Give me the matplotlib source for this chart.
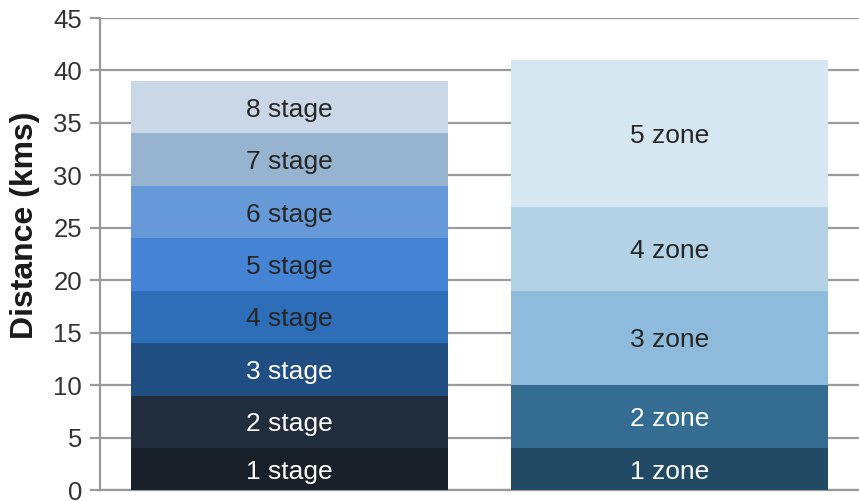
import matplotlib
matplotlib.use("Agg")
import matplotlib.pyplot as plt

plt.rcParams['font.family'] = ['Liberation Sans', 'DejaVu Sans']

# Stacked segment lengths (kms) for each bar
stage_labels = ["1 stage", "2 stage", "3 stage", "4 stage", "5 stage", "6 stage", "7 stage", "8 stage"]
stage_values = [4, 5, 5, 5, 5, 5, 5, 5]
stage_colors = ["#18202a", "#1f2d3d", "#214e82", "#2e6db8", "#4584d4", "#6599d8", "#96b3cf", "#c9d7e6"]
stage_text = ["white", "white", "white", "#262626", "#262626", "#262626", "#262626", "#262626"]

zone_labels = ["1 zone", "2 zone", "3 zone", "4 zone", "5 zone"]
zone_values = [4, 6, 9, 8, 14]
zone_colors = ["#224a64", "#346d91", "#8ebbdb", "#b3d2e6", "#d6e7f1"]
zone_text = ["white", "white", "#262626", "#262626", "#262626"]

y_ticks = [0, 5, 10, 15, 20, 25, 30, 35, 40, 45]

fig = plt.figure(figsize=(8.59, 5.01), dpi=100)
ax = fig.add_axes([100 / 859, 11 / 501, 759 / 859, 472 / 501])

bar_width = 0.835


def draw_stack(x, values, labels, colors, text_colors):
    bottom = 0
    for v, lab, c, tc in zip(values, labels, colors, text_colors):
        ax.bar(x, v, bottom=bottom, width=bar_width, color=c, linewidth=0, zorder=3)
        ax.text(x, bottom + v / 2, lab, ha="center", va="center_baseline",
                fontsize=19, color=tc, zorder=4)
        bottom += v


draw_stack(0, stage_values, stage_labels, stage_colors, stage_text)
draw_stack(1, zone_values, zone_labels, zone_colors, zone_text)

ax.set_xlim(-0.5, 1.5)
ax.set_ylim(0, 45)
ax.set_yticks(y_ticks)
ax.set_xticks([])
ax.yaxis.grid(True, color="#9a9a9a", linewidth=1.6, zorder=1)
ax.set_axisbelow(True)

for side in ["top", "right"]:
    ax.spines[side].set_visible(False)
ax.spines["left"].set_color("#9a9a9a")
ax.spines["left"].set_linewidth(1.6)
ax.spines["bottom"].set_color("#9a9a9a")
ax.spines["bottom"].set_linewidth(1.6)

ax.tick_params(axis="y", length=7, width=1.6, color="#9a9a9a",
               labelsize=18.5, labelcolor="#333333", pad=6)

ax.set_ylabel("Distance (kms)", fontsize=23, fontweight="bold",
              color="#1a1a1a", va="center")
ax.yaxis.set_label_coords(-0.099, 0.561)

fig.savefig("out.png", dpi=100)
